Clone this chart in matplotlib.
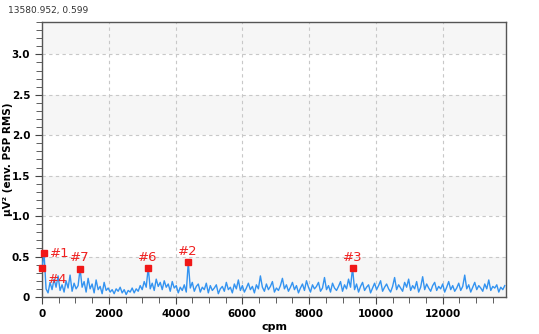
import numpy as np
import matplotlib.pyplot as plt

# envelope spectrum, one value every 60 cpm
step = 60
env = [
    0.36, 0.54, 0.10, 0.05, 0.18, 0.09, 0.22, 0.12, 0.26, 0.08, 0.15, 0.06, 0.20, 0.11, 0.27, 0.07, 0.17, 0.10, 0.14, 0.35,
    0.12, 0.19, 0.06, 0.23, 0.10, 0.16, 0.05, 0.21, 0.09, 0.13, 0.04, 0.18, 0.08, 0.11, 0.06, 0.09, 0.04, 0.10, 0.07, 0.12,
    0.05, 0.09, 0.03, 0.08, 0.06, 0.11, 0.05, 0.10, 0.07, 0.14, 0.09, 0.19, 0.12, 0.36, 0.10, 0.17, 0.08, 0.22, 0.13, 0.18,
    0.09, 0.20, 0.12, 0.16, 0.07, 0.19, 0.11, 0.14, 0.05, 0.12, 0.08, 0.15, 0.06, 0.43, 0.11, 0.18, 0.07, 0.13, 0.16, 0.06,
    0.12, 0.09, 0.17, 0.05, 0.14, 0.08, 0.11, 0.15, 0.04, 0.10, 0.13, 0.07, 0.18, 0.09, 0.12, 0.05, 0.16, 0.10, 0.21, 0.08,
    0.14, 0.06, 0.11, 0.17, 0.09, 0.13, 0.05, 0.15, 0.10, 0.26, 0.12, 0.07, 0.16, 0.09, 0.13, 0.19, 0.06, 0.11, 0.08, 0.14,
    0.23, 0.10, 0.15, 0.07, 0.12, 0.18, 0.09, 0.14, 0.05, 0.11, 0.16, 0.08, 0.20, 0.12, 0.06, 0.15, 0.10, 0.13, 0.18, 0.07,
    0.11, 0.24, 0.09, 0.14, 0.06, 0.17, 0.11, 0.08, 0.13, 0.19, 0.07, 0.15, 0.10, 0.22, 0.12, 0.36, 0.09, 0.16, 0.06, 0.13,
    0.18, 0.08, 0.12, 0.15, 0.05, 0.11, 0.17, 0.09, 0.14, 0.20, 0.07, 0.12, 0.16, 0.10, 0.06, 0.13, 0.24, 0.09, 0.15, 0.11,
    0.07, 0.18, 0.12, 0.22, 0.08, 0.14, 0.10, 0.19, 0.06, 0.12, 0.25, 0.09, 0.16, 0.11, 0.07, 0.14, 0.18, 0.08, 0.13, 0.10,
    0.16, 0.06, 0.12, 0.19, 0.09, 0.14, 0.07, 0.11, 0.17, 0.08, 0.13, 0.27, 0.10, 0.15, 0.06, 0.12, 0.18, 0.09, 0.14, 0.11,
    0.07, 0.16, 0.10, 0.21, 0.08, 0.13, 0.11, 0.15, 0.06, 0.12, 0.09, 0.14,
]
cpm = np.arange(len(env)) * step

# picked peaks
peak_names = ['#1', '#2', '#3', '#4', '#6', '#7']
peak_cpm = [60, 4380, 9300, 0, 3180, 1140]
peak_val = [0.54, 0.43, 0.36, 0.36, 0.36, 0.35]

fig = plt.figure(figsize=(5.39, 3.34), dpi=100)
ax = fig.add_axes([0.078, 0.111, 0.861, 0.823])

ax.set_xlim(0, 13900)
ax.set_ylim(0, 3.4)

# alternating bands
for y0 in [0, 1.0, 2.0, 3.0]:
    ax.axhspan(y0, y0 + 0.5, color='#f6f6f6', zorder=0, lw=0)

ax.grid(True, which='major', color='#c8c8c8', linestyle=(0, (3, 3)), linewidth=0.8)
ax.set_axisbelow(True)

ax.plot(cpm, env, color='#3393f0', lw=1.0, zorder=3)

ax.plot(peak_cpm, peak_val, 's', color='#f01818', ms=4.5, zorder=4, clip_on=False)
for name, x, y in zip(peak_names, peak_cpm, peak_val):
    if name == '#1':
        ax.annotate(name, (x, y), xytext=(4, 0), textcoords='offset points',
                    color='#f02020', fontsize=9.5, ha='left', va='center')
    elif name == '#4':
        ax.annotate(name, (x, y), xytext=(4, -4), textcoords='offset points',
                    color='#f02020', fontsize=9.5, ha='left', va='top')
    else:
        ax.annotate(name, (x, y), xytext=(0, 3), textcoords='offset points',
                    color='#f02020', fontsize=9.5, ha='center', va='bottom')

ax.set_xticks(np.arange(0, 13000, 2000))
ax.set_xticks(np.arange(0, 13901, 500), minor=True)
ax.set_yticks(np.arange(0, 3.01, 0.5))
ax.set_yticks(np.arange(0, 3.41, 0.1), minor=True)
ax.set_yticklabels(['0', '0.5', '1.0', '1.5', '2.0', '2.5', '3.0'])

ax.tick_params(which='both', direction='out', color='#444444')
ax.tick_params(which='major', length=5, labelsize=7.5)
ax.tick_params(which='minor', length=4)
for lab in ax.get_xticklabels() + ax.get_yticklabels():
    lab.set_fontweight('bold')

for s in ax.spines.values():
    s.set_color('#555555')
    s.set_linewidth(1.0)

ax.set_xlabel('cpm', fontsize=8, fontweight='bold', labelpad=2)
ax.set_ylabel('μV² (env. PSP RMS)', fontsize=7.5, fontweight='bold')
ax.yaxis.set_label_coords(-0.062, 0.5)

fig.text(0.015, 0.968, '13580.952, 0.599', fontsize=6.5, color='#333333', va='center')

fig.savefig('out.png', dpi=100)
